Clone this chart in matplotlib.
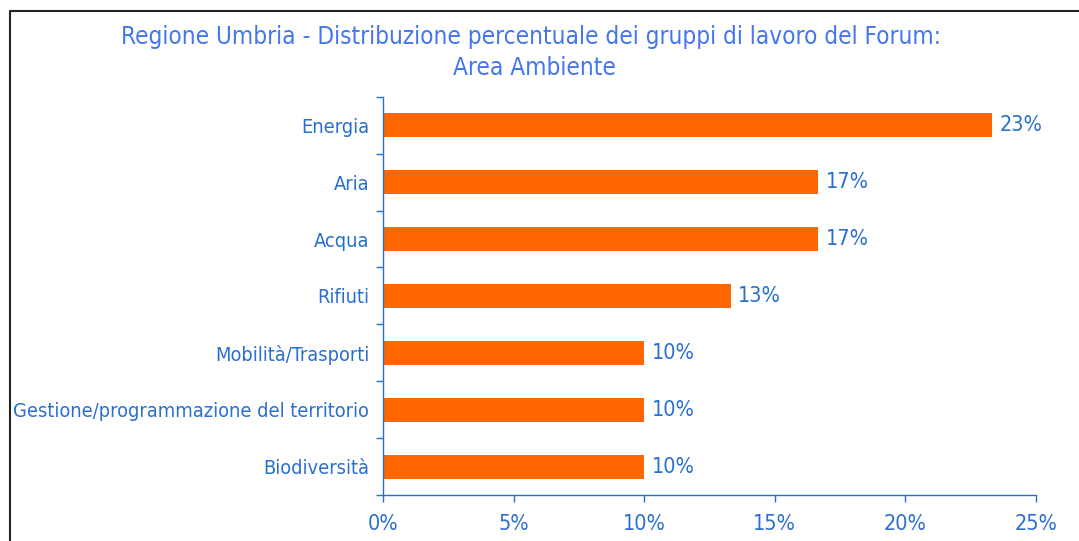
import numpy as np
import matplotlib
matplotlib.use("Agg")
import matplotlib.pyplot as plt
from matplotlib.lines import Line2D

plt.rcParams['font.family'] = ['DejaVu Sans']
plt.rcParams['font.stretch'] = 'condensed'

# dati (30 gruppi di lavoro)
categorie = ["Energia", "Aria", "Acqua", "Rifiuti", "Mobilità/Trasporti",
             "Gestione/programmazione del territorio", "Biodiversità"]
valori = [23.33, 16.67, 16.67, 13.33, 10.0, 10.0, 10.0]
etichette = ["23%", "17%", "17%", "13%", "10%", "10%", "10%"]
xticks = [0, 5, 10, 15, 20, 25]

blu = "#2a6fd0"
blu_titolo = "#4477ee"
arancio = "#ff6600"

fig = plt.figure(figsize=(10.79, 5.41), dpi=100)
ax = fig.add_axes([0.355, 0.085, 0.605, 0.736])

y = np.arange(len(categorie))
ax.barh(y, valori, height=0.42, color=arancio)
for yi, v, t in zip(y, valori, etichette):
    ax.text(v + 0.28, yi, t, va="center", ha="left", color=blu, fontsize=15.5)

ax.set_ylim(len(categorie) - 0.5, -0.5)
ax.set_xlim(0, 25)
ax.set_yticks(y)
ax.set_yticklabels(categorie, fontsize=14.3, color=blu)
ax.set_yticks(np.arange(-0.5, len(categorie)), minor=True)
ax.tick_params(axis="y", which="major", length=0, pad=10)
ax.tick_params(axis="y", which="minor", length=5, width=1, color=blu, direction="out")
ax.set_xticks(xticks)
ax.set_xticklabels([f"{t}%" for t in xticks], fontsize=15.5, color=blu)
ax.tick_params(axis="x", length=5, width=1, color=blu, pad=9)

for s in ["top", "right"]:
    ax.spines[s].set_visible(False)
for s in ["left", "bottom"]:
    ax.spines[s].set_color(blu)
    ax.spines[s].set_linewidth(1)

fig.text(0.492, 0.932, "Regione Umbria - Distribuzione percentuale dei gruppi di lavoro del Forum:",
         ha="center", va="center", color=blu_titolo, fontsize=17.5)
fig.text(0.495, 0.875, "Area Ambiente", ha="center", va="center", color=blu_titolo, fontsize=17.5)

# cornice
bx = 9.5 / 1079
by = 1 - 11 / 541
fig.add_artist(Line2D([bx, bx, 1.0], [0.0, by, by], transform=fig.transFigure,
                      color="#222222", linewidth=1.5))

fig.savefig("out.png", dpi=100)
